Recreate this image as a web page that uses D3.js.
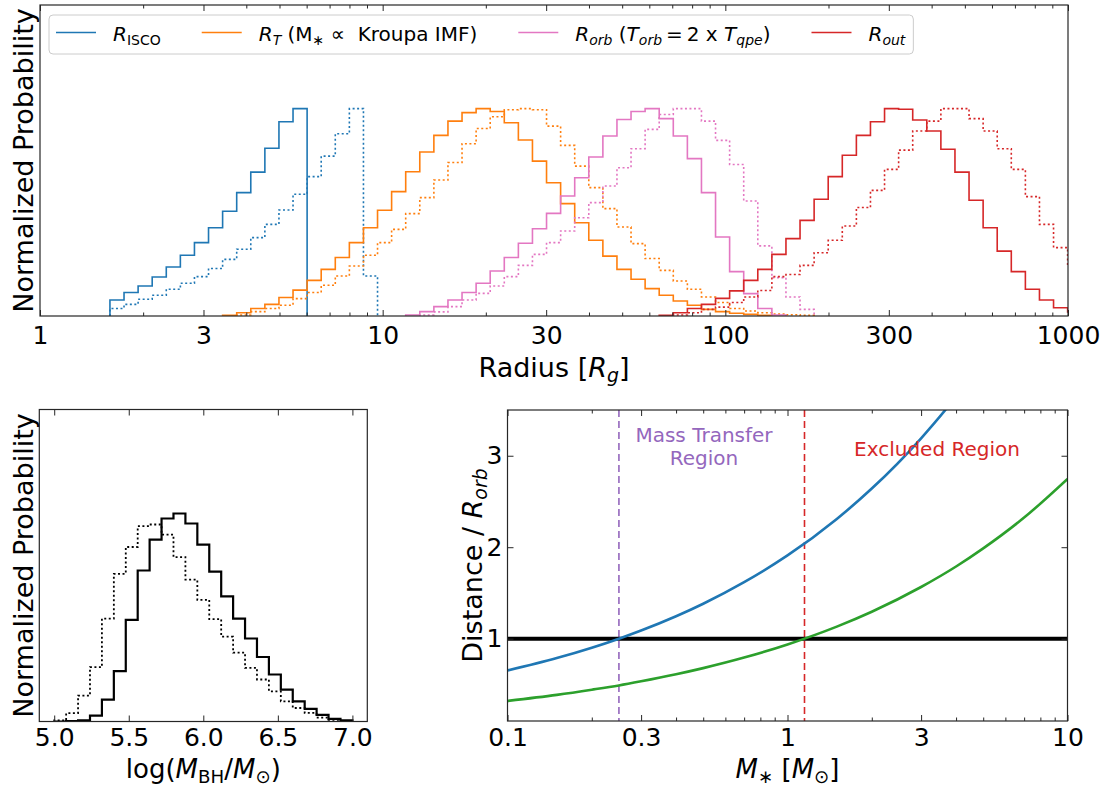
<!DOCTYPE html>
<html>
<head>
<meta charset="utf-8">
<script src="https://cdn.jsdelivr.net/npm/d3@7"></script>
<style>
  body { margin: 0; background: #fff; }
  svg { display: block; font-family: "DejaVu Sans", sans-serif; }
</style>
</head>
<body>
<div id="chart"></div>
<script>
// ---------------- data ----------------
// top panel: radius histograms (peak-normalised), log-spaced bins
const radiusTicks = [1, 3, 10, 30, 100, 300, 1000]
const radiusTickLabels = ['1', '3', '10', '30', '100', '300', '1000']
const radiusBinStart = 1.6     // first bin edge [Rg]
const radiusBinDex = 0.0411    // bin width [dex]

const iscoSolidStart = 0
const iscoSolid = [0.077, 0.113, 0.145, 0.188, 0.236, 0.293, 0.354, 0.426, 0.505, 0.595, 0.694, 0.809, 0.937, 1.0]
const iscoDottedStart = 0
const iscoDotted = [0.036, 0.056, 0.081, 0.100, 0.129, 0.158, 0.190, 0.229, 0.273, 0.322, 0.378, 0.442, 0.511, 0.587,
  0.672, 0.771, 0.879, 1.0, 0.193]

const tidalSolidStart = 8
const tidalSolid = [0.003, 0.016, 0.036, 0.056, 0.089, 0.125, 0.172, 0.225, 0.282, 0.354, 0.426, 0.510, 0.600, 0.696,
  0.791, 0.871, 0.940, 0.981, 1.0, 0.986, 0.932, 0.849, 0.747, 0.643, 0.542, 0.450, 0.365, 0.289, 0.225, 0.177,
  0.132, 0.100, 0.072, 0.052, 0.032, 0.021, 0.013, 0.008, 0.003]
const tidalDottedStart = 9
const tidalDotted = [0.005, 0.021, 0.036, 0.052, 0.084, 0.113, 0.148, 0.193, 0.241, 0.293, 0.354, 0.418, 0.494, 0.571,
  0.656, 0.740, 0.831, 0.904, 0.961, 0.995, 1.0, 0.995, 0.916, 0.823, 0.723, 0.619, 0.518, 0.429, 0.349, 0.277,
  0.220, 0.169, 0.129, 0.092, 0.065, 0.036, 0.024, 0.016, 0.010, 0.006, 0.003]

const orbSolidStart = 21
const orbSolid = [0.005, 0.021, 0.045, 0.077, 0.113, 0.158, 0.217, 0.282, 0.351, 0.421, 0.495, 0.579, 0.667, 0.767,
  0.868, 0.948, 0.986, 1.0, 0.952, 0.868, 0.759, 0.595, 0.381, 0.214, 0.108, 0.036, 0.005]
const orbDottedStart = 22
const orbDotted = [0.005, 0.020, 0.045, 0.077, 0.109, 0.145, 0.190, 0.244, 0.297, 0.354, 0.410, 0.474, 0.547, 0.627,
  0.715, 0.807, 0.900, 0.972, 1.0, 1.0, 0.940, 0.847, 0.731, 0.555, 0.338, 0.185, 0.092, 0.032]

const outSolidStart = 39
const outSolid = [0.003, 0.016, 0.036, 0.056, 0.085, 0.121, 0.172, 0.225, 0.297, 0.373, 0.461, 0.563, 0.672, 0.775,
  0.871, 0.937, 1.0, 0.997, 0.945, 0.892, 0.804, 0.694, 0.558, 0.426, 0.313, 0.214, 0.129, 0.077, 0.040, 0.020]
const outDottedStart = 40
const outDotted = [0.005, 0.016, 0.032, 0.043, 0.065, 0.092, 0.123, 0.190, 0.200, 0.244, 0.305, 0.365, 0.434, 0.523,
  0.606, 0.707, 0.800, 0.892, 0.940, 1.0, 1.0, 0.952, 0.892, 0.807, 0.707, 0.576, 0.442, 0.330, 0.240]

// bottom-left: black hole mass histograms
const mbhTicks = [5.0, 5.5, 6.0, 6.5, 7.0]
const mbhBinStart = 5.0
const mbhBinWidth = 0.08
const mbhSolid = [0, 0.002, 0.005, 0.028, 0.105, 0.242, 0.489, 0.726, 0.874, 0.976, 1.0, 0.952, 0.850, 0.721, 0.602,
  0.495, 0.399, 0.310, 0.226, 0.153, 0.097, 0.061, 0.032, 0.013, 0.006]
const mbhDotted = [0.005, 0.040, 0.124, 0.261, 0.495, 0.710, 0.839, 0.939, 0.947, 0.898, 0.790, 0.682, 0.585, 0.492,
  0.408, 0.331, 0.258, 0.202, 0.145, 0.097, 0.065, 0.041, 0.019, 0.008, 0.003]

// bottom-right: distance / R_orb vs stellar mass
const massTicks = [0.1, 0.3, 1, 3, 10]
const massTickLabels = ['0.1', '0.3', '1', '3', '10']
const distTicks = [1, 2, 3]
const massSamples = [0.1, 0.15, 0.2, 0.25, 0.3, 0.4, 0.5, 0.7, 1.0, 1.5, 2.0, 3.0, 4.0, 5.0, 7.0, 10.0]
const blueDist = [0.652, 0.788, 0.901, 1.0, 1.089, 1.245, 1.382, 1.618, 1.910, 2.309, 2.641, 3.191, 3.650, 4.08, 4.83, 5.62]
const greenDist = [0.320, 0.386, 0.442, 0.489, 0.534, 0.611, 0.678, 0.793, 0.937, 1.132, 1.295, 1.565, 1.789, 1.987, 2.324, 2.747]
const massTransferMass = 0.25
const excludedMass = 1.15
const unityLevel = 1

// ---------------- setup ----------------
const W = 1108, H = 789
const svg = d3.select('#chart').append('svg').attr('width', W).attr('height', H)

const C = {
  blue: '#1f77b4', orange: '#ff7f0e', pink: '#e377c2', red: '#d62728',
  green: '#2ca02c', purple: '#9467bd', spine: '#262626'
}
const tickFont = 25
const labelFont = 27

function richText(parent, x, y, parts, size, opts = {}) {
  const t = parent.append('text')
    .attr('x', x).attr('y', y)
    .attr('font-size', size)
    .attr('text-anchor', opts.anchor || 'start')
    .attr('fill', opts.fill || '#000')
    .style('white-space', 'pre')
  if (opts.rotate) t.attr('transform', `rotate(${opts.rotate},${x},${y})`)
  let shift = 0
  parts.forEach(p => {
    const off = p.sub ? size * 0.2 : 0
    t.append('tspan')
      .attr('dy', off - shift)
      .attr('font-size', p.sub ? size * 0.7 : size)
      .attr('font-style', p.it ? 'italic' : null)
      .text(p.t)
    shift = off
  })
  return t
}

function logMinors(lo, hi, majors) {
  const out = []
  for (let d = Math.floor(Math.log10(lo)); d < Math.ceil(Math.log10(hi)); d++) {
    for (let m = 1; m < 10; m++) {
      const v = m * Math.pow(10, d)
      if (v >= lo * 0.999 && v <= hi * 1.001 && !majors.some(k => Math.abs(k - v) / v < 1e-6)) out.push(v)
    }
  }
  return out
}

function styleAxis(g, size) {
  g.select('.domain').remove()
  g.selectAll('line').attr('stroke', C.spine).attr('stroke-width', 1)
  g.selectAll('text').attr('font-size', size).attr('font-family', '"DejaVu Sans", sans-serif').attr('fill', '#000')
  g.attr('font-size', null).attr('font-family', null)
}

function addClip(id, x0, y0, x1, y1) {
  svg.append('clipPath').attr('id', id).append('rect')
    .attr('x', x0).attr('y', y0).attr('width', x1 - x0).attr('height', y1 - y0)
}

function stepPoints(edges, heights) {
  const pts = [[edges[0], 0]]
  heights.forEach((h, i) => { pts.push([edges[i], h]); pts.push([edges[i + 1], h]) })
  pts.push([edges[heights.length], 0])
  return pts
}

function frame(x0, y0, x1, y1) {
  svg.append('rect').attr('x', x0).attr('y', y0).attr('width', x1 - x0).attr('height', y1 - y0)
    .attr('fill', 'none').attr('stroke', C.spine).attr('stroke-width', 1.2)
}

// ---------------- top panel ----------------
const T = { x0: 40, x1: 1068, y0: 5, y1: 316 }
const xR = d3.scaleLog().domain([1, 1000]).range([T.x0, T.x1])
const yR = d3.scaleLinear().domain([0, 1.5]).range([T.y1, T.y0])
addClip('clipTop', T.x0, T.y0, T.x1, T.y1)

const radiusSeries = [
  { start: iscoSolidStart, h: iscoSolid, color: C.blue, dash: null },
  { start: iscoDottedStart, h: iscoDotted, color: C.blue, dash: '2,2.5' },
  { start: tidalSolidStart, h: tidalSolid, color: C.orange, dash: null },
  { start: tidalDottedStart, h: tidalDotted, color: C.orange, dash: '2,2.5' },
  { start: orbSolidStart, h: orbSolid, color: C.pink, dash: null },
  { start: orbDottedStart, h: orbDotted, color: C.pink, dash: '2,2.5' },
  { start: outSolidStart, h: outSolid, color: C.red, dash: null },
  { start: outDottedStart, h: outDotted, color: C.red, dash: '2,2.5' }
]
const lineR = d3.line().x(d => xR(d[0])).y(d => yR(d[1]))
const gTop = svg.append('g').attr('clip-path', 'url(#clipTop)')
radiusSeries.forEach(s => {
  const edges = d3.range(s.h.length + 1).map(i => radiusBinStart * Math.pow(10, (s.start + i) * radiusBinDex))
  gTop.append('path').datum(stepPoints(edges, s.h))
    .attr('d', lineR).attr('fill', 'none').attr('stroke', s.color)
    .attr('stroke-width', 1.6).attr('stroke-dasharray', s.dash)
})

const radiusMinors = logMinors(1, 1000, radiusTicks)
svg.append('g').attr('transform', `translate(0,${T.y1})`)
  .call(d3.axisBottom(xR).tickValues(radiusTicks).tickSize(-6).tickSizeOuter(0).tickPadding(10)
    .tickFormat((d, i) => radiusTickLabels[i])).call(g => styleAxis(g, tickFont))
svg.append('g').attr('transform', `translate(0,${T.y1})`)
  .call(d3.axisBottom(xR).tickValues(radiusMinors).tickSize(-3.5).tickSizeOuter(0).tickFormat('')).call(g => styleAxis(g, tickFont))
svg.append('g').attr('transform', `translate(0,${T.y0})`)
  .call(d3.axisTop(xR).tickValues(radiusTicks).tickSize(-6).tickSizeOuter(0).tickFormat('')).call(g => styleAxis(g, tickFont))
svg.append('g').attr('transform', `translate(0,${T.y0})`)
  .call(d3.axisTop(xR).tickValues(radiusMinors).tickSize(-3.5).tickSizeOuter(0).tickFormat('')).call(g => styleAxis(g, tickFont))
frame(T.x0, T.y0, T.x1, T.y1)

richText(svg, (T.x0 + T.x1) / 2, 377, [{ t: 'Radius [' }, { t: 'R', it: 1 }, { t: 'g', it: 1, sub: 1 }, { t: ']' }],
  labelFont, { anchor: 'middle' })
richText(svg, 33, (T.y0 + T.y1) / 2, [{ t: 'Normalized Probability' }], labelFont, { anchor: 'middle', rotate: -90 })

// legend
const legendFont = 20
const legendItems = [
  { color: C.blue, parts: [{ t: 'R', it: 1 }, { t: 'ISCO', sub: 1 }] },
  { color: C.orange, parts: [{ t: 'R', it: 1 }, { t: 'T', it: 1, sub: 1 }, { t: ' (M' }, { t: '∗', sub: 1 }, { t: ' ∝  Kroupa IMF)' }] },
  { color: C.pink, parts: [{ t: 'R', it: 1 }, { t: 'orb', it: 1, sub: 1 }, { t: ' (' }, { t: 'T', it: 1 }, { t: 'orb', it: 1, sub: 1 },
    { t: '\u2009=\u20092 x ' }, { t: 'T', it: 1 }, { t: 'qpe', it: 1, sub: 1 }, { t: ')' }] },
  { color: C.red, parts: [{ t: 'R', it: 1 }, { t: 'out', it: 1, sub: 1 }] }
]
const legBox = svg.append('rect').attr('x', 49).attr('y', 15).attr('height', 39).attr('rx', 4)
  .attr('fill', '#fff').attr('fill-opacity', 0.8).attr('stroke', '#cccccc').attr('stroke-width', 1)
const gLeg = svg.append('g')
let lx = 56
legendItems.forEach(item => {
  gLeg.append('line').attr('x1', lx).attr('x2', lx + 40).attr('y1', 32.5).attr('y2', 32.5)
    .attr('stroke', item.color).attr('stroke-width', 1.6)
  const t = richText(gLeg, lx + 57, 40.5, item.parts, legendFont)
  lx = lx + 57 + t.node().getComputedTextLength() + 41
})
legBox.attr('width', lx - 41 + 8 - 49)

// ---------------- bottom-left panel ----------------
const L = { x0: 39.3, x1: 367.3, y0: 409.5, y1: 721.5 }
const xM = d3.scaleLinear().domain([4.9, 7.1]).range([L.x0, L.x1])
const yM = d3.scaleLinear().domain([0, 1.5]).range([L.y1, L.y0])
addClip('clipLeft', L.x0, L.y0, L.x1, L.y1)
const lineM = d3.line().x(d => xM(d[0])).y(d => yM(d[1]))
const mbhEdges = d3.range(mbhSolid.length + 1).map(i => mbhBinStart + i * mbhBinWidth)
const gLeft = svg.append('g').attr('clip-path', 'url(#clipLeft)')
gLeft.append('path').datum(stepPoints(mbhEdges, mbhDotted)).attr('d', lineM)
  .attr('fill', 'none').attr('stroke', '#000').attr('stroke-width', 1.8).attr('stroke-dasharray', '2,2.5')
gLeft.append('path').datum(stepPoints(mbhEdges, mbhSolid)).attr('d', lineM)
  .attr('fill', 'none').attr('stroke', '#000').attr('stroke-width', 2.2)

svg.append('g').attr('transform', `translate(0,${L.y1})`)
  .call(d3.axisBottom(xM).tickValues(mbhTicks).tickSize(-6).tickSizeOuter(0).tickPadding(7)
    .tickFormat(d3.format('.1f'))).call(g => styleAxis(g, tickFont))
svg.append('g').attr('transform', `translate(0,${L.y0})`)
  .call(d3.axisTop(xM).tickValues(mbhTicks).tickSize(-6).tickSizeOuter(0).tickFormat('')).call(g => styleAxis(g, tickFont))
frame(L.x0, L.y0, L.x1, L.y1)

richText(svg, (L.x0 + L.x1) / 2, 778, [{ t: 'log(' }, { t: 'M', it: 1 }, { t: 'BH', sub: 1 }, { t: '/' }, { t: 'M', it: 1 },
  { t: '⊙', sub: 1 }, { t: ')' }], 26, { anchor: 'middle' })
richText(svg, 33, (L.y0 + L.y1) / 2, [{ t: 'Normalized Probability' }], labelFont, { anchor: 'middle', rotate: -90 })

// ---------------- bottom-right panel ----------------
const R = { x0: 507.5, x1: 1067.5, y0: 410, y1: 721 }
const xS = d3.scaleLog().domain([0.1, 10]).range([R.x0, R.x1])
const yS = d3.scaleLinear().domain([0.1, 3.5]).range([R.y1, R.y0])
addClip('clipRight', R.x0, R.y0, R.x1, R.y1)
const gRight = svg.append('g').attr('clip-path', 'url(#clipRight)')
const curve = d3.line().x(d => xS(d[0])).y(d => yS(d[1])).curve(d3.curveMonotoneX)

gRight.append('line').attr('x1', xS(massTransferMass)).attr('x2', xS(massTransferMass))
  .attr('y1', R.y0).attr('y2', R.y1).attr('stroke', C.purple).attr('stroke-width', 1.6).attr('stroke-dasharray', '7,4')
gRight.append('line').attr('x1', xS(excludedMass)).attr('x2', xS(excludedMass))
  .attr('y1', R.y0).attr('y2', R.y1).attr('stroke', C.red).attr('stroke-width', 1.6).attr('stroke-dasharray', '7,4')
gRight.append('line').attr('x1', R.x0).attr('x2', R.x1).attr('y1', yS(unityLevel)).attr('y2', yS(unityLevel))
  .attr('stroke', '#000').attr('stroke-width', 4)
gRight.append('path').datum(massSamples.map((m, i) => [m, blueDist[i]])).attr('d', curve)
  .attr('fill', 'none').attr('stroke', C.blue).attr('stroke-width', 2.6)
gRight.append('path').datum(massSamples.map((m, i) => [m, greenDist[i]])).attr('d', curve)
  .attr('fill', 'none').attr('stroke', C.green).attr('stroke-width', 2.6)

const massMinors = logMinors(0.1, 10, massTicks)
svg.append('g').attr('transform', `translate(0,${R.y1})`)
  .call(d3.axisBottom(xS).tickValues(massTicks).tickSize(-6).tickSizeOuter(0).tickPadding(7)
    .tickFormat((d, i) => massTickLabels[i])).call(g => styleAxis(g, tickFont))
svg.append('g').attr('transform', `translate(0,${R.y1})`)
  .call(d3.axisBottom(xS).tickValues(massMinors).tickSize(-3.5).tickSizeOuter(0).tickFormat('')).call(g => styleAxis(g, tickFont))
svg.append('g').attr('transform', `translate(0,${R.y0})`)
  .call(d3.axisTop(xS).tickValues(massTicks).tickSize(-6).tickSizeOuter(0).tickFormat('')).call(g => styleAxis(g, tickFont))
svg.append('g').attr('transform', `translate(0,${R.y0})`)
  .call(d3.axisTop(xS).tickValues(massMinors).tickSize(-3.5).tickSizeOuter(0).tickFormat('')).call(g => styleAxis(g, tickFont))
svg.append('g').attr('transform', `translate(${R.x0},0)`)
  .call(d3.axisLeft(yS).tickValues(distTicks).tickSize(-6).tickSizeOuter(0).tickPadding(5)
    .tickFormat(d3.format('d'))).call(g => styleAxis(g, tickFont))
svg.append('g').attr('transform', `translate(${R.x1},0)`)
  .call(d3.axisRight(yS).tickValues(distTicks).tickSize(-6).tickSizeOuter(0).tickFormat('')).call(g => styleAxis(g, tickFont))
frame(R.x0, R.y0, R.x1, R.y1)

richText(svg, 704, 441.5, [{ t: 'Mass Transfer' }], 20, { anchor: 'middle', fill: C.purple })
richText(svg, 704, 465, [{ t: 'Region' }], 20, { anchor: 'middle', fill: C.purple })
richText(svg, 937, 456, [{ t: 'Excluded Region' }], 20, { anchor: 'middle', fill: C.red })

richText(svg, (R.x0 + R.x1) / 2, 778, [{ t: 'M', it: 1 }, { t: '∗', sub: 1 }, { t: ' [' }, { t: 'M', it: 1 }, { t: '⊙', sub: 1 }, { t: ']' }],
  26, { anchor: 'middle' })
richText(svg, 482, (R.y0 + R.y1) / 2, [{ t: 'Distance / ' }, { t: 'R', it: 1 }, { t: 'orb', it: 1, sub: 1 }],
  labelFont, { anchor: 'middle', rotate: -90 })
</script>
</body>
</html>
